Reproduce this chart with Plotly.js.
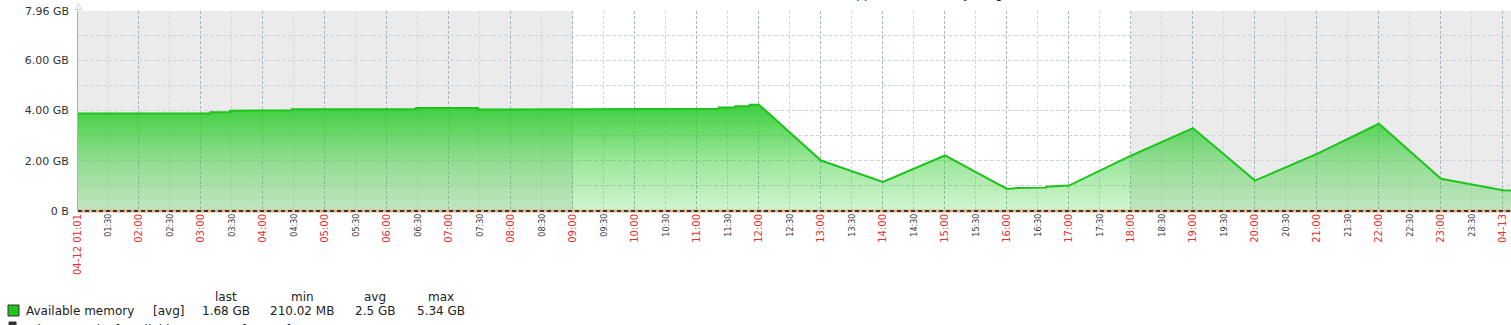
<!DOCTYPE html>
<html><head><meta charset="utf-8">
<script src="https://cdn.plot.ly/plotly-3.0.1.min.js"></script>
<style>html,body{margin:0;padding:0;background:#fff;overflow:hidden}#chart{width:1511px;height:325px}</style>
</head><body><div id="chart"></div>
<script>
// ---------- data ----------
const startTime = '2024-04-12 01:01';
const endTime = '2024-04-13 00:07:47';
const memTimes = [
  '2024-04-12 01:01','2024-04-12 03:09','2024-04-12 03:09','2024-04-12 03:28','2024-04-12 03:28',
  '2024-04-12 03:47','2024-04-12 03:47','2024-04-12 04:28','2024-04-12 04:28','2024-04-12 06:28',
  '2024-04-12 06:28','2024-04-12 07:28','2024-04-12 07:28','2024-04-12 11:07','2024-04-12 11:07',
  '2024-04-12 11:21','2024-04-12 11:21','2024-04-12 11:37','2024-04-12 11:37','2024-04-12 11:51',
  '2024-04-12 11:51','2024-04-12 12:00','2024-04-12 13:00','2024-04-12 14:00','2024-04-12 15:00',
  '2024-04-12 16:00','2024-04-12 16:10','2024-04-12 16:38','2024-04-12 16:38','2024-04-12 17:00',
  '2024-04-12 18:00','2024-04-12 19:00','2024-04-12 20:00','2024-04-12 21:00','2024-04-12 22:00',
  '2024-04-12 23:00','2024-04-13 00:00','2024-04-13 00:07:47'
];
const memValues = [
  3.88,3.88,3.93,3.93,3.99,
  3.99,4.01,4.01,4.05,4.05,
  4.10,4.10,4.04,4.04,4.07,
  4.07,4.12,4.12,4.17,4.17,
  4.23,4.23,2.01,1.16,2.21,
  0.88,0.92,0.93,0.97,1.01,
  2.20,3.30,1.21,2.27,3.47,
  1.28,0.83,0.82
];
const yMax = 7.96;
const yTickVals = [0,1,2,3,4,5,6,7];
const yTickText = ['0 B','','2.00 GB','','4.00 GB','','6.00 GB',''];
const yTopLabel = '7.96 GB';
const hourTickVals = ['2024-04-12 01:01','2024-04-12 02:00','2024-04-12 03:00','2024-04-12 04:00','2024-04-12 05:00',
  '2024-04-12 06:00','2024-04-12 07:00','2024-04-12 08:00','2024-04-12 09:00','2024-04-12 10:00','2024-04-12 11:00',
  '2024-04-12 12:00','2024-04-12 13:00','2024-04-12 14:00','2024-04-12 15:00','2024-04-12 16:00','2024-04-12 17:00',
  '2024-04-12 18:00','2024-04-12 19:00','2024-04-12 20:00','2024-04-12 21:00','2024-04-12 22:00','2024-04-12 23:00',
  '2024-04-13 00:00'];
const hourTickText = ['04-12 01:01','02:00','03:00','04:00','05:00','06:00','07:00','08:00','09:00','10:00','11:00',
  '12:00','13:00','14:00','15:00','16:00','17:00','18:00','19:00','20:00','21:00','22:00','23:00','04-13'];
const halfTickVals = ['2024-04-12 01:30','2024-04-12 02:30','2024-04-12 03:30','2024-04-12 04:30','2024-04-12 05:30',
  '2024-04-12 06:30','2024-04-12 07:30','2024-04-12 08:30','2024-04-12 09:30','2024-04-12 10:30','2024-04-12 11:30',
  '2024-04-12 12:30','2024-04-12 13:30','2024-04-12 14:30','2024-04-12 15:30','2024-04-12 16:30','2024-04-12 17:30',
  '2024-04-12 18:30','2024-04-12 19:30','2024-04-12 20:30','2024-04-12 21:30','2024-04-12 22:30','2024-04-12 23:30'];
const halfTickText = ['01:30','02:30','03:30','04:30','05:30','06:30','07:30','08:30','09:30','10:30','11:30',
  '12:30','13:30','14:30','15:30','16:30','17:30','18:30','19:30','20:30','21:30','22:30','23:30'];
const offHours = [[startTime,'2024-04-12 09:00'],['2024-04-12 18:00',endTime]];
const chartTitle = 'app-server: Memory usage (last 24 hours)';
const seriesName = 'Available memory';
const seriesFunc = '[avg]';
const statHeaders = ['last','min','avg','max'];
const statValues = ['1.68 GB','210.02 MB','2.5 GB','5.34 GB'];
const triggerLegend = 'Trigger: Lack of available memory   [< 20M]';

// ---------- chart ----------
const FONT = 'DejaVu Sans, Verdana, sans-serif';
const L = 78, T = 11, B = 211;
const traces = [
  {
    x: memTimes, y: memValues, type: 'scatter', mode: 'lines', xaxis: 'x', yaxis: 'y',
    line: {color: '#1cc41c', width: 2},
    fill: 'tozeroy',
    fillgradient: {type: 'vertical', start: 0, stop: Math.max(...memValues),
      colorscale: [[0,'rgba(50,205,50,0.22)'],[0.5,'rgba(50,205,50,0.5)'],[1,'rgba(50,205,50,0.95)']]},
    hoverinfo: 'skip', showlegend: false
  },
  {
    x: [startTime], y: [0], type: 'scatter', mode: 'markers', xaxis: 'x2', yaxis: 'y',
    marker: {opacity: 0}, hoverinfo: 'skip', showlegend: false
  }
];
const shapes = offHours.map(p => ({type:'rect', xref:'x', yref:'paper', x0:p[0], x1:p[1], y0:0, y1:1,
  fillcolor:'#ebebeb', line:{width:0}, layer:'below'}));
// bottom base line: tan with dark dashes on top
shapes.push({type:'line', xref:'paper', yref:'paper', x0:0, x1:1, y0:0, y1:0,
  line:{color:'#e3b07f', width:3}, layer:'above'});
shapes.push({type:'line', xref:'paper', yref:'paper', x0:0, x1:1, y0:0, y1:0,
  line:{color:'#383838', width:2, dash:'4px,3px'}, layer:'above'});
// legend swatches
shapes.push({type:'rect', xref:'paper', yref:'paper', xsizemode:'pixel', ysizemode:'pixel', xanchor:0, yanchor:0,
  x0:-70, x1:-59, y0:-94, y1:-105, fillcolor:'#1cc41c', line:{color:'#333', width:1}});
shapes.push({type:'rect', xref:'paper', yref:'paper', xsizemode:'pixel', ysizemode:'pixel', xanchor:0, yanchor:0,
  x0:-69, x1:-62, y0:-111, y1:-121, fillcolor:'#333', line:{color:'#333', width:1}});

const colX = [225.5, 302, 374.5, 440.5];
const ann = [];
const txt = (text, px, py, anchor, size, color) => ({text, xref:'paper', yref:'paper', x:0, y:0,
  xshift: px - L, yshift: B - py, xanchor: anchor, yanchor:'middle', showarrow:false,
  font:{family:FONT, size:size||12, color:color||'#222'}});
ann.push(txt(seriesName, 24, 311, 'left'));
ann.push(txt(seriesFunc, 151, 311, 'left'));
statHeaders.forEach((h,i)=>ann.push(txt(h, colX[i], 297, 'center')));
statValues.forEach((v,i)=>ann.push(txt(v, colX[i], 311, 'center')));
ann.push(txt(triggerLegend, 24, 330, 'left'));
ann.push({text: yTopLabel, xref:'paper', yref:'y', x:0, y:yMax, xanchor:'right', yanchor:'middle',
  xshift:-7, showarrow:false, font:{family:FONT, size:11, color:'#333'}});
ann.push({text:'△', xref:'paper', yref:'paper', x:0, y:1, xanchor:'center', yanchor:'middle', yshift:5,
  showarrow:false, font:{family:FONT, size:9, color:'#a7b3bb'}});
ann.push({text: chartTitle, xref:'paper', yref:'paper', x:0, y:1, xanchor:'center', yanchor:'bottom',
  xshift: 975 - L, yshift: 7.5, showarrow:false, font:{family:FONT, size:12, color:'#222'}});

const layout = {
  width: 1511, height: 325,
  margin: {l: L, r: 0, t: T, b: 325 - B, pad: 0},
  paper_bgcolor: '#ffffff', plot_bgcolor: '#ffffff',
  font: {family: FONT, size: 11, color: '#333'},
  showlegend: false,
  xaxis: {
    type: 'date', range: [startTime, endTime], fixedrange: true,
    tickmode: 'array', tickvals: hourTickVals, ticktext: hourTickText, tickangle: -90,
    tickfont: {family: FONT, size: 10, color: '#e53030'}, ticks: '',
    showgrid: true, gridcolor: '#a9b5bd', griddash: '3px,2px', gridwidth: 1,
    showline: false, zeroline: false
  },
  xaxis2: {
    type: 'date', range: [startTime, endTime], overlaying: 'x', anchor: 'y', side: 'bottom', fixedrange: true,
    tickmode: 'array', tickvals: halfTickVals, ticktext: halfTickText, tickangle: -90,
    tickfont: {family: FONT, size: 8, color: '#333'}, ticks: '',
    showgrid: true, gridcolor: '#d3d8dc', griddash: '3px,2px', gridwidth: 1,
    showline: false, zeroline: false
  },
  yaxis: {
    range: [0, yMax], fixedrange: true,
    tickmode: 'array', tickvals: yTickVals, ticktext: yTickText,
    tickfont: {family: FONT, size: 11, color: '#333'}, ticks: 'outside', ticklen: 6, tickcolor: 'rgba(0,0,0,0)',
    showgrid: true, gridcolor: '#cfd5d9', griddash: '4px,2px', gridwidth: 1,
    showline: true, linecolor: '#a7b3bb', linewidth: 1, zeroline: false
  },
  shapes: shapes,
  annotations: ann
};
Plotly.newPlot('chart', traces, layout, {staticPlot: true, displayModeBar: false});
</script></body></html>
